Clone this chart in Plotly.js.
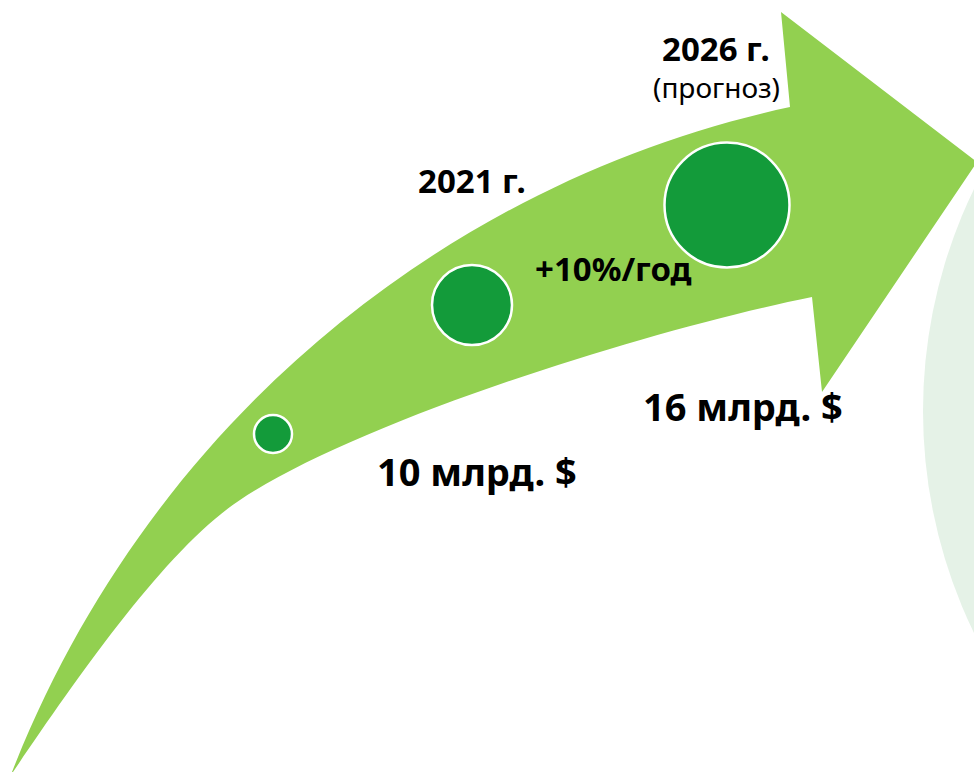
<!DOCTYPE html>
<html>
<head>
<meta charset="utf-8">
<script src="https://cdn.plot.ly/plotly-3.0.1.min.js"></script>
<style>html,body{margin:0;padding:0;background:#fff;}#chart{width:974px;height:772px;}</style>
</head>
<body>
<div id="chart"></div>
<script>
// ---- data ----
var years = ['2021 г.', '2026 г.'];
var yearNotes = ['', '(прогноз)'];
var marketValues = [10, 16];
var valueUnit = 'млрд. $';
var growthLabel = '+10%/год';

// ---- geometry (pixel-space, y down) ----
var W = 974, H = 772;
var bubbleX = [273, 472, 727];
var bubbleY = [434, 305, 205];
var bubbleD = [38, 80, 125];

var arrowPath = 'M 12,772 C 150,420 450,180 790,107 L 781,12 L 977,162 L 822,392 L 812,297 ' +
                'C 652,329 360,420 240,500 C 165,549 73,684 13,772 Z';

var FONT = 'Noto Sans, DejaVu Sans, sans-serif';
var green = '#92d050', dark = '#139b3a';

var annotations = [
  {x: 716, y: 48, text: '<b>' + years[1] + '</b>', size: 33},
  {x: 716, y: 87, text: yearNotes[1], size: 28},
  {x: 472, y: 180, text: '<b>' + years[0] + '</b>', size: 33},
  {x: 613, y: 268, text: '<b>' + growthLabel + '</b>', size: 33},
  {x: 477, y: 471, text: '<b>' + marketValues[0] + ' ' + valueUnit + '</b>', size: 38},
  {x: 743, y: 406, text: '<b>' + marketValues[1] + ' ' + valueUnit + '</b>', size: 38}
].map(function(a){
  return {x: a.x, y: a.y, xref: 'x', yref: 'y', text: a.text, showarrow: false,
          xanchor: 'center', yanchor: 'middle',
          font: {family: FONT, size: a.size, color: '#000'}};
});

var trace = {
  type: 'scatter', mode: 'markers',
  x: bubbleX, y: bubbleY,
  marker: {size: bubbleD, color: dark, line: {color: '#ffffff', width: 2.5}, opacity: 1},
  hoverinfo: 'skip', cliponaxis: true
};

var layout = {
  width: W, height: H,
  margin: {l: 0, r: 0, t: 0, b: 0, pad: 0},
  paper_bgcolor: '#ffffff', plot_bgcolor: '#ffffff',
  showlegend: false,
  xaxis: {range: [0, W], visible: false, fixedrange: true},
  yaxis: {range: [H, 0], visible: false, fixedrange: true},
  shapes: [
    {type: 'circle', xref: 'x', yref: 'y', x0: 923, x1: 923 + 2 * 509, y0: 411 - 509, y1: 411 + 509,
     fillcolor: '#e5f2e7', line: {width: 0}, layer: 'below'},
    {type: 'path', xref: 'x', yref: 'y', path: arrowPath, fillcolor: green, line: {width: 0}, layer: 'below'}
  ],
  annotations: annotations
};

Plotly.newPlot('chart', [trace], layout, {displayModeBar: false, staticPlot: true});
</script>
</body>
</html>
